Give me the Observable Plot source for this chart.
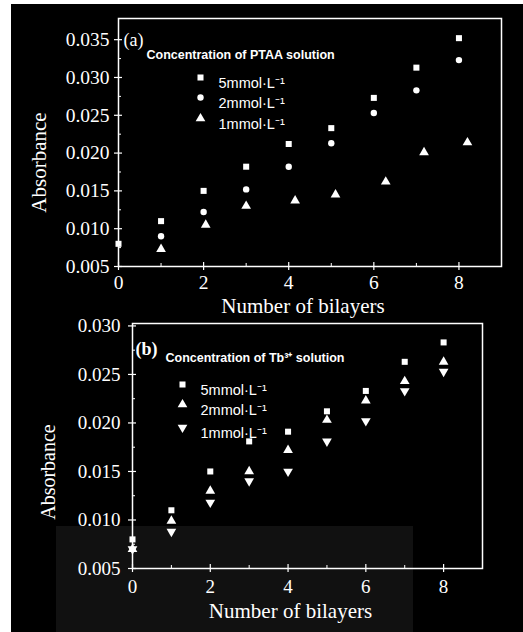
<!DOCTYPE html>
<html>
<head>
<meta charset="utf-8">
<script src="https://cdn.jsdelivr.net/npm/d3@7"></script>
<script src="https://cdn.jsdelivr.net/npm/@observablehq/plot@0.6"></script>
<style>
  html, body { margin: 0; padding: 0; background: #fff; }
  #page { position: relative; width: 523px; height: 632px; overflow: hidden; background: #fff; }
  #black { position: absolute; left: 11px; top: 4px; width: 512px; height: 628px; background: #000; }
  #shade { position: absolute; left: 56px; top: 526px; width: 357px; height: 106px; background: #111; }
  #pa { position: absolute; left: 0; top: 0; }
  #pb { position: absolute; left: 0; top: 315px; }
  svg { background: transparent !important; overflow: visible; }
</style>
</head>
<body>
<div id="page">
  <div id="black"></div>
  <div id="shade"></div>
  <div id="pa"></div>
  <div id="pb"></div>
</div>
<script>
// ---------- Data ----------
const xTickLabels = [0, 2, 4, 6, 8];
const yTicksA = [0.005, 0.010, 0.015, 0.020, 0.025, 0.030, 0.035];
const yTicksB = [0.005, 0.010, 0.015, 0.020, 0.025, 0.030];

// Panel (a): PTAA solution concentration
const ptaa5X = [0, 1, 2, 3, 4, 5, 6, 7, 8];
const ptaa5Y = [0.0080, 0.0110, 0.0150, 0.0182, 0.0212, 0.0233, 0.0273, 0.0313, 0.0352];
const ptaa2X = [1, 2, 3, 4, 5, 6, 7, 8];
const ptaa2Y = [0.0090, 0.0122, 0.0152, 0.0182, 0.0213, 0.0253, 0.0283, 0.0323];
const ptaa1X = [1, 2.05, 3, 4.15, 5.1, 6.28, 7.18, 8.2];
const ptaa1Y = [0.0073, 0.0105, 0.0130, 0.0137, 0.0145, 0.0162, 0.0201, 0.0214];

// Panel (b): Tb3+ solution concentration
const tbX = [0, 1, 2, 3, 4, 5, 6, 7, 8];
const tb5Y = [0.0080, 0.0110, 0.0150, 0.0181, 0.0191, 0.0212, 0.0233, 0.0263, 0.0283];
const tb2Y = [0.0070, 0.0099, 0.0130, 0.0150, 0.0172, 0.0203, 0.0223, 0.0243, 0.0263];
const tb1Y = [0.0070, 0.0088, 0.0118, 0.0140, 0.0150, 0.0181, 0.0202, 0.0233, 0.0253];

const legendA = ["5mmol·L⁻¹", "2mmol·L⁻¹", "1mmol·L⁻¹"];
const legendB = ["5mmol·L⁻¹", "2mmol·L⁻¹", "1mmol·L⁻¹"];
const titleA = "Concentration of PTAA solution";
const titleB = "Concentration of Tb³⁺ solution";

// ---------- Helpers ----------
const zip = (xs, ys) => xs.map((x, i) => ({x, y: ys[i]}));
const triangleDown = {
  draw(context, size) {
    const sqrt3 = Math.sqrt(3);
    const y = -Math.sqrt(size / (sqrt3 * 3));
    context.moveTo(0, -y * 2);
    context.lineTo(-sqrt3 * y, y);
    context.lineTo(sqrt3 * y, y);
    context.closePath();
  }
};
const serif = "'Liberation Serif', 'Times New Roman', serif";
const sans = "'Liberation Sans', Arial, sans-serif";

function axes(yTicks, yMinor, fs, padX, padY) {
  return [
    Plot.axisX({ticks: xTickLabels, tickSize: 8, dy: -4, text: null, label: null, stroke: "white", strokeWidth: 1.2}),
    Plot.axisX({ticks: [1, 3, 5, 7], tickSize: 3, dy: -3, text: null, label: null, stroke: "white"}),
    Plot.axisX({ticks: xTickLabels, tickSize: 0, tickPadding: padX, tickFormat: d3.format("d"),
      fontSize: fs, fontFamily: serif, fill: "white", label: null}),
    Plot.axisY({ticks: yTicks, tickSize: 8, dx: 4, text: null, label: null, stroke: "white", strokeWidth: 1.2}),
    Plot.axisY({ticks: yMinor, tickSize: 3, dx: 3, text: null, label: null, stroke: "white"}),
    Plot.axisY({ticks: yTicks, tickSize: 0, tickPadding: padY, tickFormat: d3.format(".3f"),
      fontSize: fs, fontFamily: serif, fill: "white", label: null}),
    Plot.frame({stroke: "white", strokeWidth: 1.5})
  ];
}

function legend(title, labels, symbols, sizes, o) {
  const marks = [
    Plot.text([title], {frameAnchor: "top-left", dx: o.tx, dy: o.ty, textAnchor: "start",
      fill: "white", fontSize: 12.5, fontFamily: sans, fontWeight: "bold"})
  ];
  labels.forEach((lab, i) => {
    marks.push(Plot.dot([lab], {frameAnchor: "top-left", dx: o.mx, dy: o.my[i], symbol: symbols[i],
      r: sizes[i], fill: "white", stroke: "none"}));
    marks.push(Plot.text([lab], {frameAnchor: "top-left", dx: o.lx, dy: o.my[i], textAnchor: "start",
      fill: "white", fontSize: 14.5, fontFamily: sans}));
  });
  return marks;
}

// ---------- Panel (a) ----------
const plotA = Plot.plot({
  width: 523, height: 315,
  marginLeft: 118, marginRight: 22, marginTop: 18, marginBottom: 49,
  x: {domain: [0, 9]},
  y: {domain: [0.005, 0.0378]},
  style: {background: "transparent", color: "white"},
  marks: [
    ...axes(yTicksA, [0.0075, 0.0125, 0.0175, 0.0225, 0.0275, 0.0325], 19.5, 9, 9),
    Plot.text(["Absorbance"], {frameAnchor: "left", dx: -79, dy: 20, rotate: -90, textAnchor: "middle",
      fill: "white", fontSize: 21, fontFamily: serif}),
    Plot.text(["Number of bilayers"], {frameAnchor: "bottom", dx: -7, dy: 46, textAnchor: "middle",
      fill: "white", fontSize: 21, fontFamily: serif}),
    Plot.text(["(a)"], {frameAnchor: "top-left", dx: 5, dy: 15, textAnchor: "start",
      fill: "white", fontSize: 18, fontFamily: serif}),
    ...legend(titleA, legendA, ["square", "circle", "triangle"], [3.4, 3.2, 3.6],
      {tx: 28, ty: 32, mx: 82, my: [59, 79, 100], lx: 100}),
    Plot.dot(zip(ptaa5X, ptaa5Y), {x: "x", y: "y", symbol: "square", r: 3.4, fill: "white", stroke: "none"}),
    Plot.dot(zip(ptaa2X, ptaa2Y), {x: "x", y: "y", symbol: "circle", r: 3.2, fill: "white", stroke: "none"}),
    Plot.dot(zip(ptaa1X, ptaa1Y), {x: "x", y: "y", symbol: "triangle", r: 3.6, fill: "white", stroke: "none"})
  ]
});
document.getElementById("pa").append(plotA);

// ---------- Panel (b) ----------
const plotB = Plot.plot({
  width: 523, height: 317,
  marginLeft: 132, marginRight: 41, marginTop: 8, marginBottom: 64,
  x: {domain: [0, 9]},
  y: {domain: [0.005, 0.03025]},
  style: {background: "transparent", color: "white"},
  marks: [
    ...axes(yTicksB, [0.0075, 0.0125, 0.0175, 0.0225, 0.0275], 19, 11, 12),
    Plot.text(["Absorbance"], {frameAnchor: "left", dx: -84, dy: 26, rotate: -90, textAnchor: "middle",
      fill: "white", fontSize: 20, fontFamily: serif}),
    Plot.text(["Number of bilayers"], {frameAnchor: "bottom", dx: -17, dy: 49, textAnchor: "middle",
      fill: "white", fontSize: 21, fontFamily: serif}),
    Plot.text(["(b)"], {frameAnchor: "top-left", dx: 3, dy: 19, textAnchor: "start",
      fill: "white", fontSize: 18, fontWeight: "bold", fontFamily: serif}),
    ...legend(titleB, legendB, ["square", "triangle", triangleDown], [3.4, 3.6, 3.6],
      {tx: 33, ty: 30, mx: 50, my: [61, 81, 104], lx: 68}),
    Plot.dot(zip(tbX, tb5Y), {x: "x", y: "y", symbol: "square", r: 3.4, fill: "white", stroke: "none"}),
    Plot.dot(zip(tbX, tb2Y), {x: "x", y: "y", symbol: "triangle", r: 3.6, fill: "white", stroke: "none"}),
    Plot.dot(zip(tbX, tb1Y), {x: "x", y: "y", symbol: triangleDown, r: 3.6, fill: "white", stroke: "none"})
  ]
});
document.getElementById("pb").append(plotB);
</script>
</body>
</html>
